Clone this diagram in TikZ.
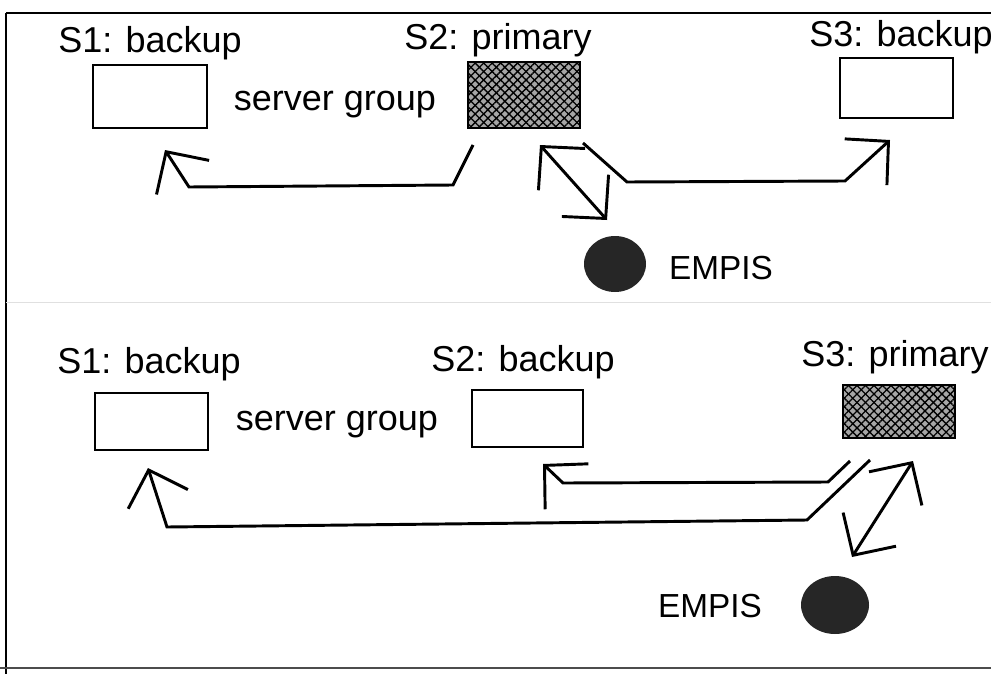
\documentclass[tikz,border=0pt]{standalone}
\usepackage{fontspec}
\setmainfont{Liberation Sans}
\usetikzlibrary{arrows.meta,patterns.meta,shapes.geometric}

\tikzset{every picture/.style={line width=0.75pt}}
\tikzset{
  srvbox/.style={draw,line width=1.5pt,inner sep=0pt,minimum width=85pt,minimum height=47pt},
  primbox/.style={srvbox,fill=black!35,
    postaction={pattern={Lines[angle=45,distance=4.5pt,line width=1pt]}},
    postaction={pattern={Lines[angle=-45,distance=4.5pt,line width=1pt]}},
    postaction={draw,line width=1.5pt}},
  lbl/.style={anchor=base,inner sep=0.75pt,font=\fontsize{27}{32}\selectfont},
  emtxt/.style={anchor=base,inner sep=0.75pt,font=\fontsize{25}{30}\selectfont},
  empis/.style={ellipse,fill=black!85,inner sep=0pt},
  conn/.style={line width=2.2pt,line join=miter},
  barb/.tip={Straight Barb[length=23pt,width=47pt,line width=2.2pt]}
}

\begin{document}
\begin{tikzpicture}[x=0.75pt,y=0.75pt,yscale=-1,xscale=1]
\useasboundingbox (0,0) rectangle (991,674);

%Frame
\draw [line width=1.5pt] (6,13) -- (991,13) ;
\draw [line width=1pt] (6,13) -- (6,674) ;
\draw [line width=1pt,color=black!70] (0,668) -- (991,668) ;
\draw [color=black!12] (6,302) -- (991,302) ;

%---------- upper panel ----------
%Shape: Rectangle
\node [srvbox,minimum width=85.5pt] (s1t) at (150,96.5) {};
%Shape: Rectangle
\node [primbox,minimum width=84pt,minimum height=49.5pt] (s2t) at (524,95) {};
%Shape: Rectangle
\node [srvbox,minimum width=84.75pt,minimum height=45pt] (s3t) at (896.5,88) {};
%Shape: Ellipse
\node [empis,minimum width=46.5pt,minimum height=42pt] (emt) at (615,264) {};

% Text Node
\node [lbl] (l1t) at (150,53) {S1: backup};
% Text Node
\node [lbl] (l2t) at (498,50) {S2: primary};
% Text Node
\node [lbl] (l3t) at (901,47) {S3: backup};
% Text Node
\node [lbl] (gt) at (335,110) {server group};
% Text Node
\node [emtxt] (et) at (721,279) {EMPIS};

\coordinate (a1s) at (473,145);
\coordinate (a1b) at (453,185);
\coordinate (a1c) at (189,187);
\coordinate (a1e) at (165,150);
\coordinate (a2s) at (583,143);
\coordinate (a2b) at (627,182);
\coordinate (a2c) at (845,181);
\coordinate (a2e) at (890,140);
\coordinate (a3s) at (540,145);
\coordinate (a3e) at (607,220);

%Straight Lines
\draw [conn,-{barb}] (a1s) -- (a1b) -- (a1c) -- (a1e) ;
%Straight Lines
\draw [conn,-{barb}] (a2s) -- (a2b) -- (a2c) -- (a2e) ;
%Straight Lines
\draw [conn,{barb}-{barb}] (a3s) -- (a3e) ;

%---------- lower panel ----------
%Shape: Rectangle
\node [srvbox,minimum width=84.75pt,minimum height=42.75pt] (s1b) at (151.5,421.5) {};
%Shape: Rectangle
\node [srvbox,minimum width=83.25pt,minimum height=42.75pt] (s2b) at (527.5,418.5) {};
%Shape: Rectangle
\node [primbox,minimum width=84pt,minimum height=39.75pt] (s3b) at (899,411.5) {};
%Shape: Ellipse
\node [empis,minimum width=51pt,minimum height=43.5pt] (emb) at (835,605) {};

% Text Node
\node [lbl] (l1b) at (149,373) {S1: backup};
% Text Node
\node [lbl] (l2b) at (523,371) {S2: backup};
% Text Node
\node [lbl] (l3b) at (895,366) {S3: primary};
% Text Node
\node [lbl] (gb) at (337,430) {server group};
% Text Node
\node [emtxt] (eb) at (710,617) {EMPIS};

\coordinate (b1s) at (870,460);
\coordinate (b1b) at (807,520);
\coordinate (b1c) at (167,527);
\coordinate (b1e) at (148,468);
\coordinate (b2s) at (850,461);
\coordinate (b2b) at (828,482);
\coordinate (b2c) at (563,483);
\coordinate (b2e) at (543,464);
\coordinate (b3s) at (913,461);
\coordinate (b3e) at (852,557);

%Straight Lines
\draw [conn,-{barb}] (b1s) -- (b1b) -- (b1c) -- (b1e) ;
%Straight Lines
\draw [conn,-{barb}] (b2s) -- (b2b) -- (b2c) -- (b2e) ;
%Straight Lines
\draw [conn,{barb}-{barb}] (b3s) -- (b3e) ;
\end{tikzpicture}
\end{document}
